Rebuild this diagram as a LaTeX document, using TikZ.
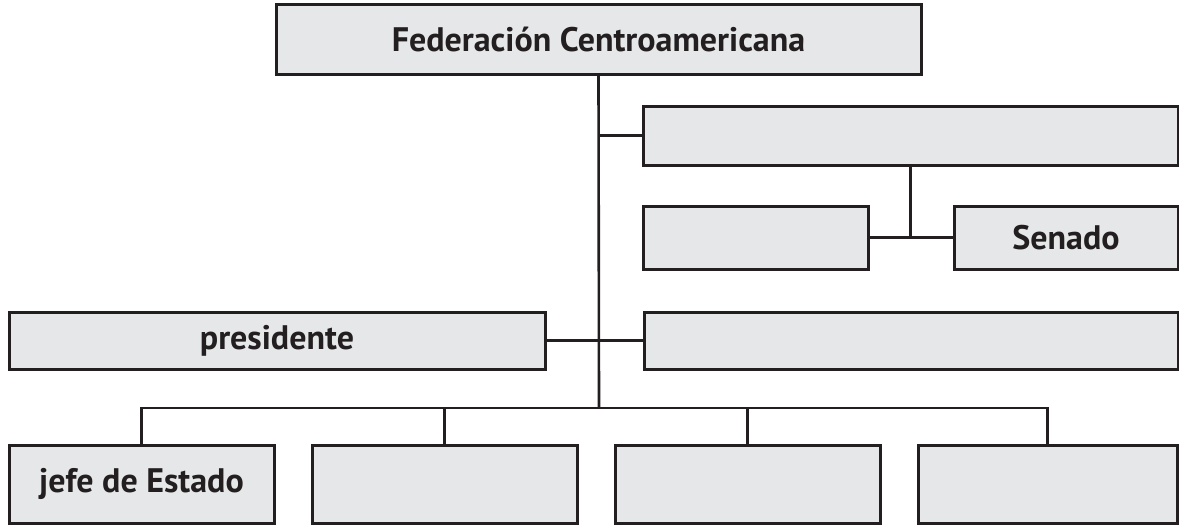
\documentclass[tikz,border=0pt]{standalone}
\usepackage{fontspec}
\setmainfont{PT Sans}
\definecolor{boxfill}{HTML}{E6E7E8}
\definecolor{ink}{HTML}{231F20}
\begin{document}
\begin{tikzpicture}[x=1pt,y=-1pt,
  box/.style={draw=ink,fill=boxfill,line width=3pt,rectangle,inner sep=0pt,
    font=\fontsize{34}{40}\selectfont\bfseries,text=ink},
  link/.style={draw=ink,line width=2.6pt}]
\useasboundingbox (0,0) rectangle (1179,525);
\node[box,minimum width=645,minimum height=70] (fed) at (598.5,39) {Federación Centroamericana};
\node[box,minimum width=535,minimum height=59] (r1) at (910.5,135.5) {};
\node[box,minimum width=225,minimum height=63] (r2) at (755.5,237.5) {};
\node[box,minimum width=224,minimum height=63] (sen) at (1066,237.5) {Senado};
\node[box,minimum width=536,minimum height=57] (pres) at (277,340.5) {presidente};
\node[box,minimum width=534,minimum height=57] (r3) at (911,340.5) {};
\node[box,minimum width=265,minimum height=78] (b1) at (141.5,484) {jefe de Estado};
\node[box,minimum width=265,minimum height=78] (b2) at (444.5,484) {};
\node[box,minimum width=265,minimum height=78] (b3) at (747.5,484) {};
\node[box,minimum width=259,minimum height=78] (b4) at (1047.5,484) {};
\coordinate (bus) at (599,408);
\draw[link] (fed.south) -- (bus);
\draw[link] (r1.west) -- (r1.west -| bus);
\draw[link] (r1.south) -- (r1.south |- sen.west);
\draw[link] (r2.east) -- (sen.west);
\draw[link] (pres.east) -- (r3.west);
\draw[link] (b1.north) |- (bus) -| (b4.north);
\draw[link] (b2.north) -- (b2.north |- bus);
\draw[link] (b3.north) -- (b3.north |- bus);
\end{tikzpicture}
\end{document}
